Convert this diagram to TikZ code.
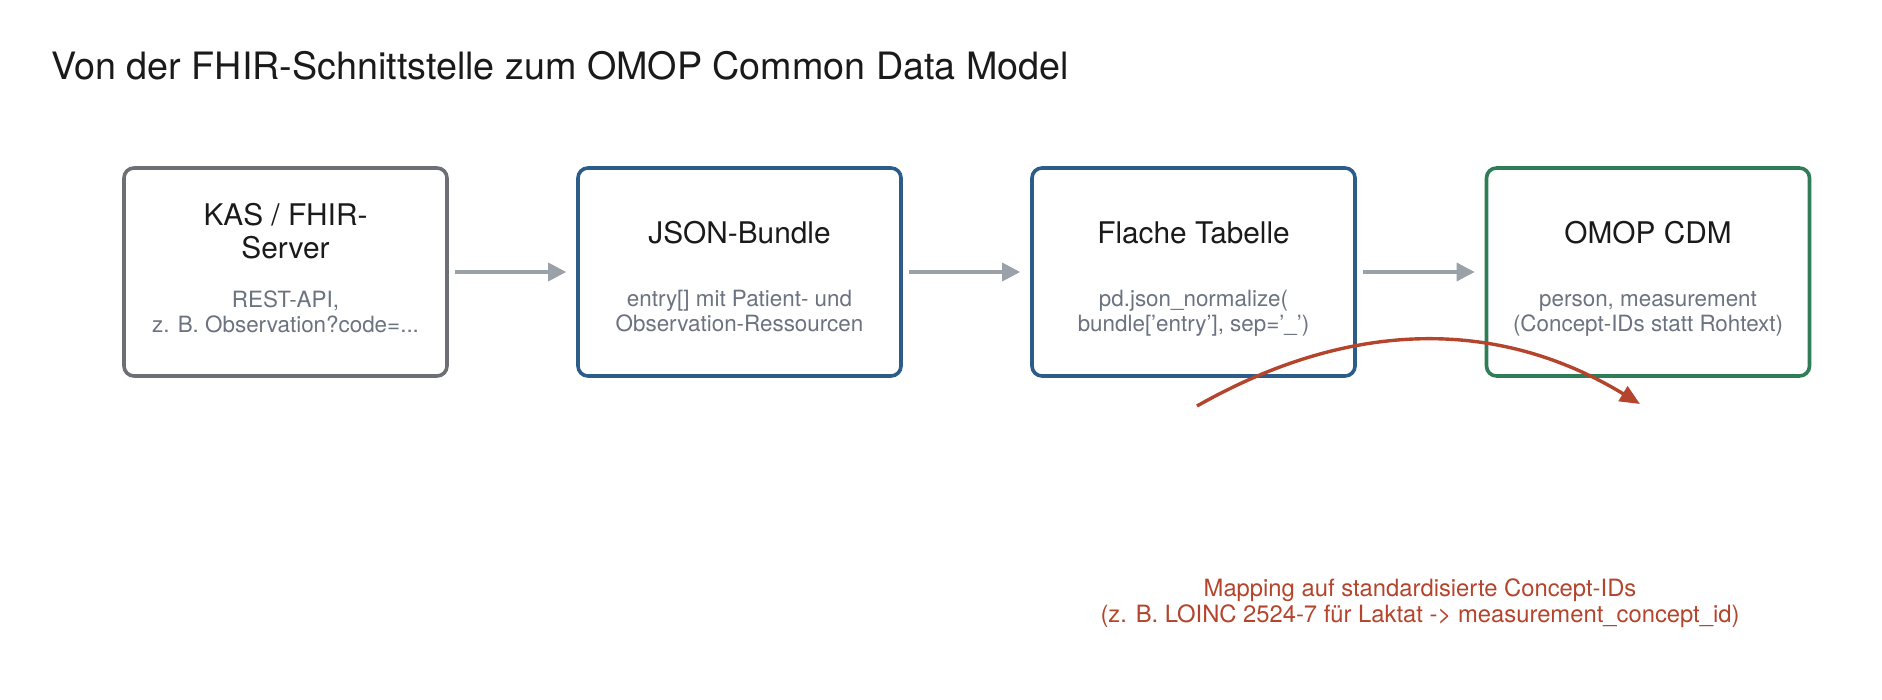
\documentclass[tikz,border=0pt]{standalone}
\usepackage{fontspec}
\setmainfont{TeX Gyre Heros}
\usepackage{xcolor}
\usepackage{tikz}
\usetikzlibrary{arrows.meta}
\definecolor{inkdark}{HTML}{1A1A1A}
\definecolor{subgray}{HTML}{6B7280}
\definecolor{srcgray}{HTML}{6C7075}
\definecolor{flowgray}{HTML}{9AA1A9}
\definecolor{stageblue}{HTML}{2B5C8A}
\definecolor{cdmgreen}{HTML}{2E7D57}
\definecolor{mapred}{HTML}{B5442C}

\begin{document}
\begin{tikzpicture}[x=0.5pt, y=-0.5pt,
    stage/.style={draw, rectangle, rounded corners=5pt, line width=1.8pt, fill=white,
        minimum width=161.5pt, minimum height=104pt, inner sep=0pt},
    head/.style={align=center, text=inkdark, font=\fontsize{14.9pt}{16.2pt}\selectfont},
    sub/.style={align=center, text=subgray, font=\fontsize{11.2pt}{12.6pt}\selectfont},
    flow/.style={draw=flowgray, line width=1.6pt, -{Triangle[length=9pt, width=9pt]},
        shorten <=3pt, shorten >=5pt}]
    \useasboundingbox (0,0) rectangle (1882,700);

    \node[anchor=base west, inner sep=0pt, text=inkdark, font=\fontsize{18.85pt}{22pt}\selectfont] (title) at (51, 80)
        {Von der FHIR-Schnittstelle zum OMOP Common Data Model};

    \node[stage, draw=srcgray] (kas) at (285.5, 272) {};
    \node[stage, draw=stageblue] (json) at (739.5, 272) {};
    \node[stage, draw=stageblue] (flat) at (1193.5, 272) {};
    \node[stage, draw=cdmgreen] (omop) at (1648, 272) {};

    \node[head] (kashead) at ([yshift=20.5pt]kas.center) {KAS / FHIR-\\Server};
    \node[head] (jsonhead) at ([yshift=19.8pt]json.center) {JSON-Bundle};
    \node[head] (flathead) at ([yshift=19.5pt]flat.center) {Flache Tabelle};
    \node[head] (omophead) at ([yshift=19.5pt]omop.center) {OMOP CDM};

    \node[sub] (kassub) at ([yshift=-20pt]kas.center) {REST-API,\\z. B. Observation?code=...};
    \node[sub] (jsonsub) at ([yshift=-19.7pt]json.center) {entry[] mit Patient- und\\Observation-Ressourcen};
    \node[sub] (flatsub) at ([yshift=-20.8pt]flat.center) {pd.json\_normalize(\\bundle['entry'], sep='\_')};
    \node[sub] (omopsub) at ([yshift=-20.8pt]omop.center) {person, measurement\\(Concept-IDs statt Rohtext)};

    \draw[flow] (kas) -- (json);
    \draw[flow] (json) -- (flat);
    \draw[flow] (flat) -- (omop);

    % mapping hint
    \coordinate (mapstart) at (1197, 406);
    \coordinate (mapend) at (1640, 404);
    \draw[mapred, line width=1.7pt, -{Triangle[length=10pt, width=8.5pt]}]
        (mapstart) .. controls (1350.7, 318.7) and (1498.3, 318) .. (mapend);
    \node[align=center, text=mapred, font=\fontsize{11.9pt}{13.2pt}\selectfont] (maptext) at (1420, 603)
        {Mapping auf standardisierte Concept-IDs\\(z. B. LOINC 2524-7 für Laktat -> measurement\_concept\_id)};
\end{tikzpicture}
\end{document}
